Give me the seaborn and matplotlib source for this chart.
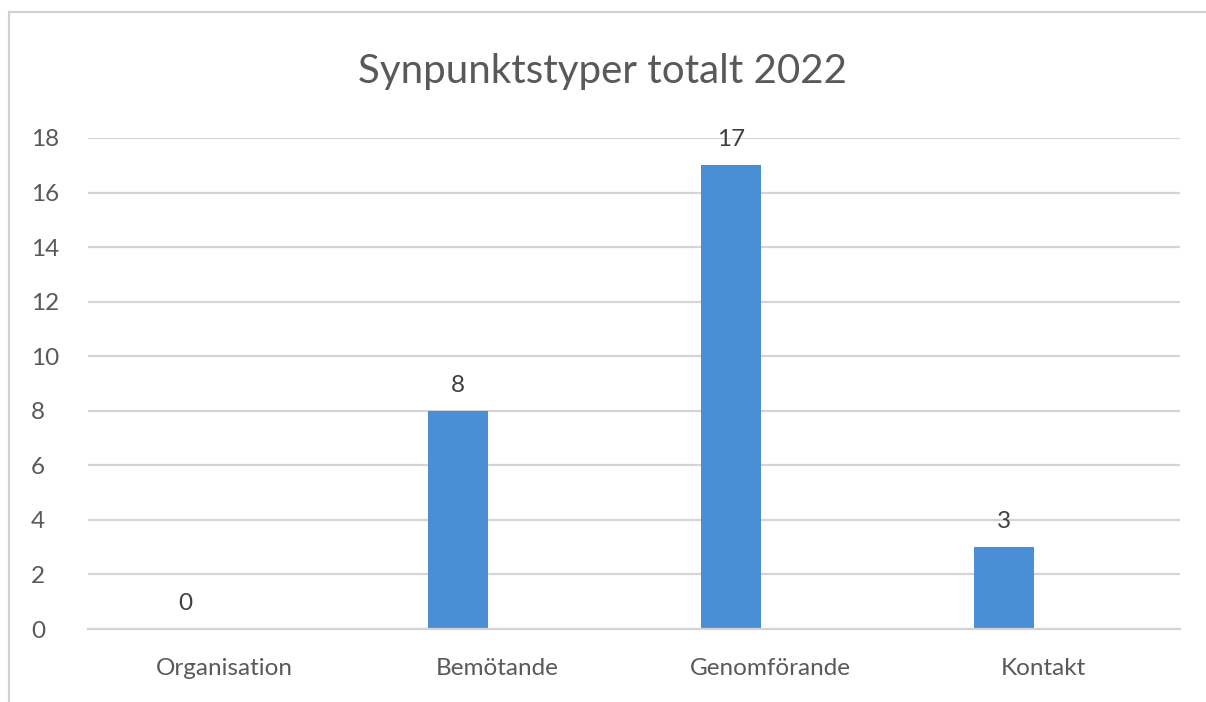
import matplotlib
matplotlib.use("Agg")
import matplotlib.pyplot as plt
import seaborn as sns
import pandas as pd
from matplotlib.lines import Line2D

categories = ["Organisation", "Bemötande", "Genomförande", "Kontakt"]
values = [0, 8, 17, 3]
yticks = [0, 2, 4, 6, 8, 10, 12, 14, 16, 18]
title = "Synpunktstyper totalt 2022"

sns.set_theme(style="white")
plt.rcParams['font.family'] = ['Lato', 'DejaVu Sans']

df = pd.DataFrame({"cat": categories, "val": values})

W, H = 1206, 702
fig = plt.figure(figsize=(W / 100, H / 100), dpi=100)
fig.patch.set_facecolor("white")
ax = fig.add_axes([88 / W, 1 - 629 / H, (1180 - 88) / W, (629 - 138) / H])

sns.barplot(data=df, x="cat", y="val", color="#4A8FD6", width=0.22,
            saturation=1, ax=ax, linewidth=0)

# bars sit left of the category centre (first series of a cluster)
shift = 0.145
for p in ax.patches:
    p.set_x(p.get_x() - shift)

ax.set_xlim(-0.5, 3.5)
ax.set_ylim(0, 18)
ax.set_yticks(yticks)
ax.set_yticklabels([str(t) for t in yticks])
ax.yaxis.grid(True, color="#D4D4D4", linewidth=1.6)
ax.set_axisbelow(True)
for s in ["top", "right", "left"]:
    ax.spines[s].set_visible(False)
ax.spines["bottom"].set_color("#D4D4D4")
ax.spines["bottom"].set_linewidth(1.6)
ax.set_xlabel("")
ax.set_ylabel("")
ax.tick_params(axis="both", length=0, labelsize=17.5, colors="#595959")
ax.tick_params(axis="x", pad=21)
ax.tick_params(axis="y", pad=41)
for lbl in ax.get_yticklabels():
    lbl.set_horizontalalignment("left")

for i, v in enumerate(values):
    ax.annotate(str(v), (i - shift, v), xytext=(0, 11), textcoords="offset points",
                ha="center", va="bottom", fontsize=17.5, color="#404040")

fig.text(0.5, 1 - 72 / H, title, ha="center", va="center", fontsize=29,
         color="#595959")

# chart frame (top and left edges visible)
fig.add_artist(Line2D([9 / W, 1.0], [1 - 12 / H, 1 - 12 / H],
                      transform=fig.transFigure, color="#D0D0D0", linewidth=1.5))
fig.add_artist(Line2D([9 / W, 9 / W], [0, 1 - 12 / H],
                      transform=fig.transFigure, color="#D0D0D0", linewidth=1.5))

fig.savefig("out.png", dpi=100, facecolor="white")
